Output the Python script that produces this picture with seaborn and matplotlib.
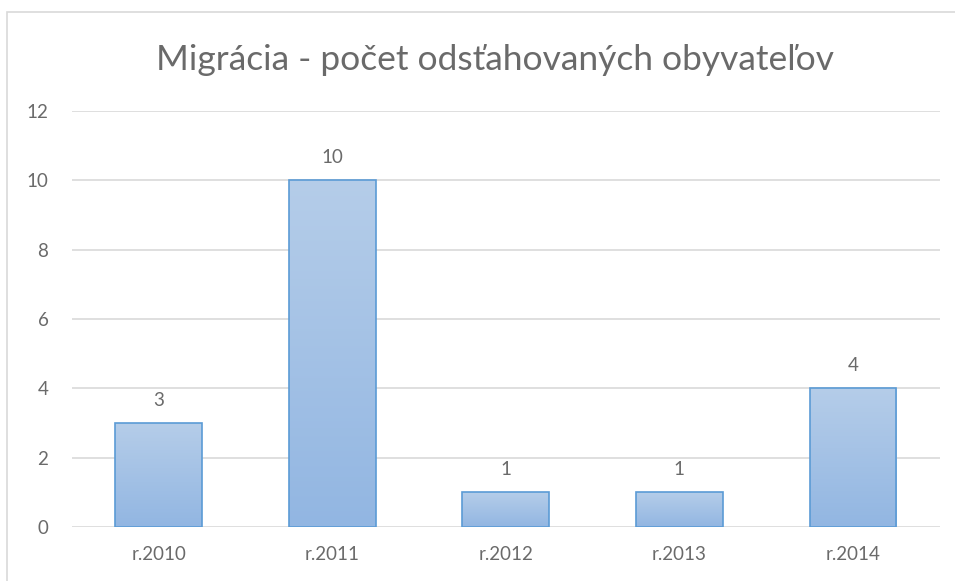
import numpy as np
import pandas as pd
import matplotlib.pyplot as plt
import seaborn as sns
from matplotlib.colors import LinearSegmentedColormap
from matplotlib.patches import Rectangle

years = ["r.2010", "r.2011", "r.2012", "r.2013", "r.2014"]
counts = [3, 10, 1, 1, 4]
title = "Migrácia - počet odsťahovaných obyvateľov"

df = pd.DataFrame({"rok": years, "pocet": counts})

sns.set_theme(style="white")
plt.rcParams["font.family"] = ["Lato", "DejaVu Sans"]
grey = "#6a6a6a"

fig = plt.figure(figsize=(9.55, 5.81), dpi=100)
ax = fig.add_axes([0.0754, 0.093, 0.9086, 0.716])

sns.barplot(data=df, x="rok", y="pocet", width=0.5, color="#a5c2e6",
            edgecolor="#5b9bd5", linewidth=1.2, ax=ax, zorder=3)

# gradient fill like the Excel original
cmap = LinearSegmentedColormap.from_list("grad", ["#92b6e2", "#b5cde9"])
grad = np.linspace(0, 1, 256).reshape(-1, 1)
for bar in ax.patches:
    x0, y0 = bar.get_x(), bar.get_y()
    w, h = bar.get_width(), bar.get_height()
    im = ax.imshow(grad, cmap=cmap, aspect="auto", origin="lower",
                   extent=[x0, x0 + w, y0, y0 + h], zorder=3.5)
    im.set_clip_path(bar)
    bar.set_facecolor("none")
    bar.set_zorder(4)
    ax.text(x0 + w / 2, h + 0.4, str(int(h)), ha="center", va="bottom",
            fontsize=13.5, color=grey)

ax.set_xlim(-0.5, len(years) - 0.5)
ax.set_ylim(0, 12)
ax.set_yticks(range(0, 13, 2))
ax.yaxis.grid(True, color="#d9d9d9", linewidth=1.2, zorder=0)
ax.set_axisbelow(True)
for s in ax.spines.values():
    s.set_visible(False)
ax.set_xlabel("")
ax.set_ylabel("")
ax.tick_params(axis="both", length=0, labelsize=13.5, labelcolor=grey)
ax.tick_params(axis="x", pad=14)
ax.tick_params(axis="y", pad=17)

fig.text(0.518, 0.897, title, ha="center", va="center", fontsize=25.5, color=grey)

# chart border (left and top visible, the rest cut by the image edge)
fig.patches.append(Rectangle((0.0073, -0.05), 1.1, 1.029,
                             transform=fig.transFigure, fill=False,
                             edgecolor="#d9d9d9", linewidth=1.2))

fig.savefig("out.png", dpi=100)
